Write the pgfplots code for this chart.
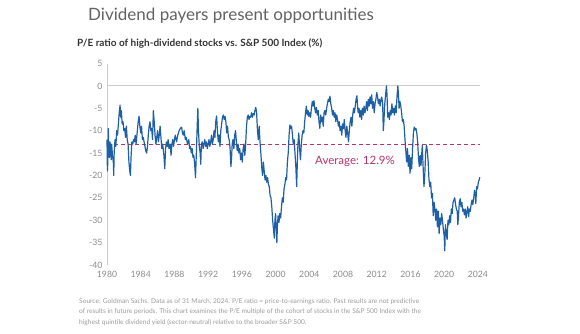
\documentclass[border=0pt]{standalone}
\usepackage{fontspec}
\setmainfont{Lato}
\usepackage{pgfplots}
\pgfplotsset{compat=1.18}
\definecolor{lineblue}{HTML}{1F5FA6}
\definecolor{avgpink}{HTML}{B8336A}
\definecolor{tickgray}{HTML}{8A8A8A}
\definecolor{axgray}{HTML}{CCCCCC}
\definecolor{titlegray}{HTML}{626262}
\definecolor{subgray}{HTML}{333333}
\definecolor{srcgray}{HTML}{9A9A9A}
\begin{document}
\begin{tikzpicture}
\useasboundingbox (0,0) rectangle (580pt,333pt);
\begin{axis}[
  at={(107pt,68pt)}, anchor=south west,
  scale only axis, width=373pt, height=201.5pt,
  xmin=1980, xmax=2024.25, ymin=-40, ymax=5,
  axis y line*=left, axis x line*=bottom,
  x axis line style={draw=none},
  y axis line style={draw=axgray, line width=0.8pt},
  major tick length=0pt,
  xtick={1980,1984,...,2024}, ytick={-40,-35,...,5},
  /pgf/number format/assume math mode=true,
  /pgf/number format/1000 sep={},
  tick label style={font=\fontsize{8.7}{10}\selectfont, text=tickgray},
  xticklabel style={yshift=-3pt},
  yticklabel style={xshift=-1pt},
  clip=false,
]
\addplot[draw=axgray, line width=0.9pt] coordinates {(1980,0) (2024.25,0)};
\addplot[draw=avgpink, line width=1.1pt, dash pattern=on 4pt off 3pt] coordinates {(1980,-13.1) (2024.25,-13.1)};
\addplot[draw=lineblue, line width=1.2pt, line join=round] coordinates {
(1980.00,-12) (1980.05,-19) (1980.10,-17) (1980.15,-9.5) (1980.20,-13) (1980.30,-16) (1980.35,-12.5) (1980.45,-14) (1980.50,-16.5) (1980.55,-13) (1980.65,-15.5) (1980.75,-17) (1980.80,-20) (1980.85,-15) (1980.95,-12)
(1981.05,-13.5) (1981.15,-10) (1981.25,-11) (1981.35,-8.5) (1981.45,-6) (1981.55,-4.3) (1981.62,-7) (1981.70,-5.5) (1981.80,-8.5) (1981.90,-8)
(1982.00,-10) (1982.10,-9.5) (1982.20,-11.5) (1982.30,-9) (1982.40,-12) (1982.50,-13) (1982.60,-17) (1982.70,-19) (1982.78,-20) (1982.85,-16) (1982.95,-12.5)
(1983.05,-13) (1983.15,-12) (1983.25,-12.5) (1983.35,-11) (1983.45,-13) (1983.55,-11) (1983.70,-8) (1983.80,-6.8) (1983.90,-9)
(1984.00,-10.5) (1984.10,-9) (1984.20,-12) (1984.30,-11.5) (1984.45,-13) (1984.60,-14.5) (1984.70,-15) (1984.80,-13.5) (1984.90,-11)
(1985.00,-9) (1985.10,-8) (1985.20,-10) (1985.30,-9.5) (1985.40,-12) (1985.50,-5.5) (1985.60,-8) (1985.70,-11) (1985.80,-13) (1985.90,-11.5)
(1986.00,-10) (1986.10,-12.5) (1986.20,-11) (1986.30,-9) (1986.40,-11.5) (1986.50,-14) (1986.60,-13) (1986.75,-15.5) (1986.85,-18.5) (1986.95,-14)
(1987.05,-12.5) (1987.15,-13.5) (1987.25,-12) (1987.35,-14) (1987.50,-13) (1987.60,-15.5) (1987.70,-13) (1987.80,-12) (1987.90,-13.5)
(1988.00,-12) (1988.10,-11) (1988.25,-12.5) (1988.40,-11) (1988.55,-10) (1988.70,-9.5) (1988.85,-9.2) (1988.95,-10.5)
(1989.05,-11) (1989.15,-10) (1989.30,-12) (1989.40,-11.5) (1989.55,-13) (1989.70,-12) (1989.80,-14) (1989.90,-13.5)
(1990.00,-15) (1990.10,-14) (1990.20,-16) (1990.30,-15.5) (1990.40,-17.5) (1990.50,-20.5) (1990.60,-15) (1990.70,-9) (1990.78,-5) (1990.85,-10) (1990.95,-13.5)
(1991.05,-15) (1991.12,-17.5) (1991.20,-13) (1991.30,-12.5) (1991.40,-14) (1991.50,-13) (1991.60,-12) (1991.70,-13.5) (1991.80,-12.5) (1991.90,-14)
(1992.00,-13) (1992.10,-12) (1992.20,-13.5) (1992.30,-12.5) (1992.40,-11) (1992.50,-13) (1992.60,-12) (1992.70,-10) (1992.80,-11.5) (1992.90,-8)
(1993.00,-6.7) (1993.10,-10) (1993.20,-12.5) (1993.30,-11) (1993.40,-13.5) (1993.50,-10) (1993.60,-8.5) (1993.70,-7) (1993.80,-6.5) (1993.90,-7.5)
(1994.00,-6.8) (1994.10,-8) (1994.20,-10.5) (1994.30,-9) (1994.40,-11.5) (1994.50,-12) (1994.60,-14) (1994.70,-18) (1994.78,-16) (1994.85,-13) (1994.95,-12)
(1995.05,-14) (1995.15,-11) (1995.25,-10) (1995.35,-12.5) (1995.45,-14.5) (1995.55,-13) (1995.65,-15) (1995.75,-14) (1995.85,-16.5) (1995.95,-15)
(1996.05,-17) (1996.15,-14) (1996.25,-13) (1996.35,-15.5) (1996.45,-13) (1996.55,-9) (1996.65,-7) (1996.75,-6.5) (1996.85,-7.5) (1996.95,-6.8)
(1997.05,-7) (1997.15,-6) (1997.25,-7) (1997.35,-6.2) (1997.45,-6.5) (1997.55,-5.5) (1997.65,-4.8) (1997.75,-6) (1997.85,-10) (1997.95,-12)
(1998.05,-9) (1998.15,-12.5) (1998.25,-15) (1998.35,-18) (1998.45,-20) (1998.55,-17) (1998.65,-19) (1998.75,-21) (1998.85,-20) (1998.95,-21.5)
(1999.05,-20.5) (1999.15,-22) (1999.25,-22.5) (1999.35,-24.5) (1999.45,-25) (1999.55,-27) (1999.65,-30) (1999.75,-32) (1999.85,-34) (1999.92,-30)
(2000.00,-28.5) (2000.08,-32) (2000.15,-35) (2000.22,-31) (2000.30,-29) (2000.40,-30.5) (2000.50,-28.5) (2000.60,-29.5) (2000.70,-27) (2000.80,-25) (2000.90,-26)
(2001.00,-23) (2001.10,-22) (2001.20,-20.5) (2001.30,-21) (2001.40,-17) (2001.50,-15) (2001.60,-11) (2001.70,-8.7) (2001.80,-9.5) (2001.90,-9)
(2002.00,-11) (2002.10,-13) (2002.20,-12) (2002.30,-15) (2002.40,-18) (2002.50,-22.5) (2002.58,-17) (2002.65,-13) (2002.75,-10.5) (2002.85,-14) (2002.95,-16.5)
(2003.05,-13) (2003.15,-11) (2003.25,-10) (2003.35,-10.5) (2003.45,-8) (2003.55,-6) (2003.65,-4.5) (2003.75,-6.5) (2003.85,-5.5) (2003.95,-6.8)
(2004.05,-6) (2004.15,-7) (2004.25,-5) (2004.35,-3.5) (2004.45,-4.5) (2004.55,-3.3) (2004.65,-5) (2004.75,-6) (2004.85,-4.8) (2004.95,-6.5)
(2005.05,-5.5) (2005.15,-8) (2005.25,-9.5) (2005.35,-6.5) (2005.45,-8) (2005.55,-7) (2005.65,-9) (2005.75,-6) (2005.85,-5.5) (2005.95,-6.5)
(2006.05,-5) (2006.15,-4) (2006.25,-3) (2006.35,-3.5) (2006.45,-2.3) (2006.55,-4) (2006.65,-5) (2006.75,-6.5) (2006.85,-5.5) (2006.95,-7)
(2007.05,-6) (2007.15,-8) (2007.25,-6.5) (2007.35,-7.5) (2007.45,-9) (2007.55,-8) (2007.65,-10) (2007.75,-9) (2007.85,-11) (2007.95,-8.5)
(2008.05,-9.5) (2008.15,-7.5) (2008.25,-10) (2008.35,-11.5) (2008.45,-9) (2008.55,-10.5) (2008.65,-12.5) (2008.75,-10) (2008.85,-8) (2008.95,-7)
(2009.05,-9) (2009.15,-6.5) (2009.25,-5) (2009.35,-6) (2009.45,-4.5) (2009.55,-3) (2009.65,-2.2) (2009.72,-4.5) (2009.80,-6) (2009.90,-5)
(2010.00,-7) (2010.10,-5.5) (2010.20,-7.5) (2010.30,-5) (2010.40,-6.5) (2010.50,-4.5) (2010.60,-6) (2010.70,-5) (2010.80,-3.5) (2010.90,-5.5)
(2011.00,-3) (2011.10,-4.5) (2011.20,-2.5) (2011.30,-4) (2011.40,-2) (2011.50,-5) (2011.60,-3.5) (2011.70,-6) (2011.80,-4) (2011.90,-3)
(2012.00,-1.5) (2012.10,-2.5) (2012.20,-4) (2012.30,-3) (2012.40,-4.5) (2012.50,-3) (2012.60,-2.5) (2012.70,-4) (2012.78,-10) (2012.85,-8) (2012.95,-4)
(2013.05,-2) (2013.15,0) (2013.22,-2) (2013.30,-7) (2013.40,-6) (2013.50,-7.5) (2013.60,-5.5) (2013.70,-6.5) (2013.80,-4) (2013.90,-6)
(2014.00,-5) (2014.10,-6.5) (2014.20,-4.5) (2014.30,-6) (2014.40,-2.5) (2014.50,0) (2014.58,-2) (2014.65,-5) (2014.75,-3.5) (2014.85,-4.5) (2014.95,-6)
(2015.05,-8) (2015.15,-7.5) (2015.25,-9) (2015.35,-12) (2015.45,-14.5) (2015.55,-17) (2015.65,-14) (2015.75,-18) (2015.85,-15.5) (2015.95,-19.5)
(2016.05,-16) (2016.15,-18.5) (2016.25,-14) (2016.35,-10.5) (2016.45,-9.2) (2016.55,-9.8) (2016.65,-9.5) (2016.75,-10.5) (2016.85,-12.5) (2016.95,-16)
(2017.05,-18) (2017.15,-15.5) (2017.25,-17.8) (2017.40,-13.3) (2017.50,-18) (2017.60,-22.5) (2017.70,-19.8) (2017.80,-15) (2017.90,-13.2)
(2018.00,-14.5) (2018.10,-17) (2018.20,-21) (2018.30,-22.5) (2018.40,-21.5) (2018.50,-25) (2018.60,-24) (2018.70,-29) (2018.80,-26) (2018.90,-27.5)
(2019.00,-30) (2019.10,-27.5) (2019.20,-31.5) (2019.30,-28) (2019.40,-33) (2019.50,-29.5) (2019.60,-31) (2019.70,-28.5) (2019.80,-30) (2019.90,-32)
(2020.00,-33.5) (2020.07,-36.8) (2020.15,-31) (2020.25,-33) (2020.35,-34.3) (2020.45,-30) (2020.55,-31) (2020.65,-29) (2020.75,-30.5) (2020.85,-27.5) (2020.95,-28.5)
(2021.05,-26) (2021.15,-25.5) (2021.25,-25) (2021.35,-26.5) (2021.45,-27.5) (2021.55,-28) (2021.62,-31) (2021.70,-29) (2021.80,-26) (2021.90,-25.2)
(2022.00,-27) (2022.10,-26) (2022.20,-28) (2022.30,-27.5) (2022.40,-28.8) (2022.50,-27.5) (2022.60,-29.5) (2022.70,-28) (2022.80,-27) (2022.90,-29.2)
(2023.00,-27.5) (2023.10,-28) (2023.20,-26.5) (2023.30,-25.5) (2023.40,-26.5) (2023.50,-25) (2023.60,-23.3) (2023.68,-24) (2023.75,-26.3) (2023.85,-22.5) (2023.95,-23)
(2024.05,-21.5) (2024.15,-21) (2024.22,-20.4)
};
\end{axis}
\node[anchor=base west, inner sep=0, text=titlegray, font=\fontsize{17}{20}\selectfont] at (88pt,312.3pt) {Dividend payers present opportunities};
\node[anchor=base west, inner sep=0, text=subgray, font=\bfseries\fontsize{10}{12}\selectfont] at (77pt,286.3pt) {P/E ratio of high-dividend stocks vs. S\&P 500 Index (\%)};
\node[anchor=west, inner sep=0, text=avgpink, font=\fontsize{11.5}{13}\selectfont] at (315pt,171.3pt) {Average: 12.9\%};
\node[anchor=base west, inner sep=0, text=srcgray, font=\fontsize{6.6}{8}\selectfont] at (79pt,30pt) {Source: Goldman Sachs. Data as of 31 March, 2024. P/E ratio = price-to-earnings ratio. Past results are not predictive};
\node[anchor=base west, inner sep=0, text=srcgray, font=\fontsize{6.6}{8}\selectfont] at (79pt,19.5pt) {of results in future periods. This chart examines the P/E multiple of the cohort of stocks in the S\&P 500 Index with the};
\node[anchor=base west, inner sep=0, text=srcgray, font=\fontsize{6.6}{8}\selectfont] at (79pt,9pt) {highest quintile dividend yield (sector-neutral) relative to the broader S\&P 500.};
\end{tikzpicture}
\end{document}
